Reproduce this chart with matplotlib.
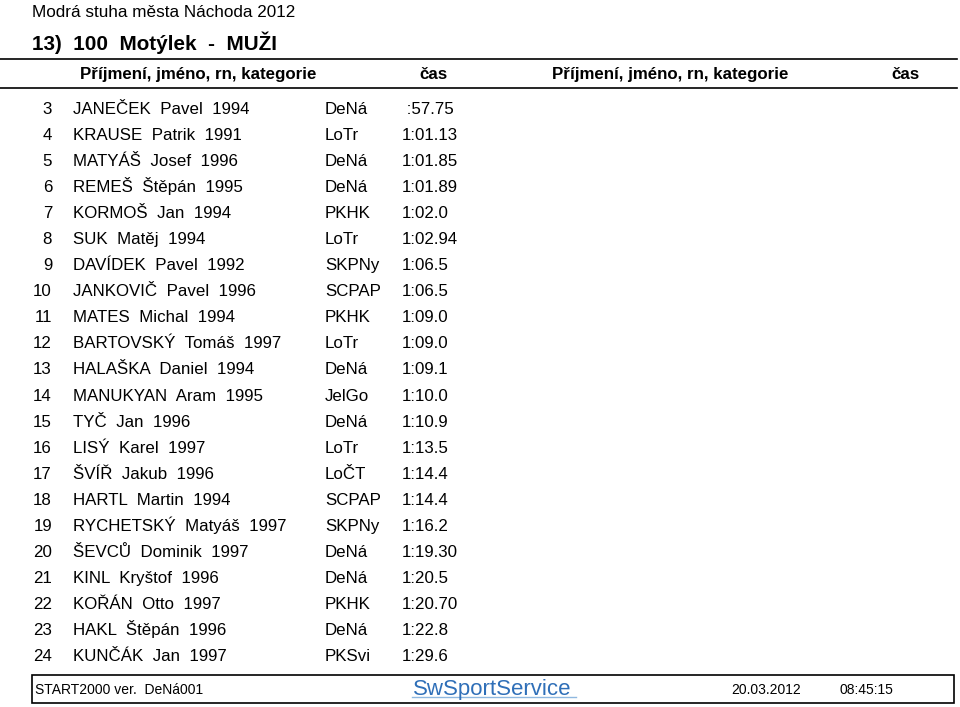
import matplotlib.pyplot as plt

plt.rcParams['font.family'] = ['Liberation Sans', 'DejaVu Sans']

# Data
ranks = [3, 4, 5, 6, 7, 8, 9, 10, 11, 12, 13, 14, 15, 16, 17, 18, 19, 20, 21, 22, 23, 24]
names = ['JANEČEK  Pavel  1994', 'KRAUSE  Patrik  1991', 'MATYÁŠ  Josef  1996',
         'REMEŠ  Štěpán  1995', 'KORMOŠ  Jan  1994', 'SUK  Matěj  1994',
         'DAVÍDEK  Pavel  1992', 'JANKOVIČ  Pavel  1996', 'MATES  Michal  1994',
         'BARTOVSKÝ  Tomáš  1997', 'HALAŠKA  Daniel  1994', 'MANUKYAN  Aram  1995',
         'TYČ  Jan  1996', 'LISÝ  Karel  1997', 'ŠVÍŘ  Jakub  1996',
         'HARTL  Martin  1994', 'RYCHETSKÝ  Matyáš  1997', 'ŠEVCŮ  Dominik  1997',
         'KINL  Kryštof  1996', 'KOŘÁN  Otto  1997', 'HAKL  Štěpán  1996',
         'KUNČÁK  Jan  1997']
clubs = ['DeNá', 'LoTr', 'DeNá', 'DeNá', 'PKHK', 'LoTr', 'SKPNy', 'SCPAP', 'PKHK',
         'LoTr', 'DeNá', 'JelGo', 'DeNá', 'LoTr', 'LoČT', 'SCPAP', 'SKPNy', 'DeNá',
         'DeNá', 'PKHK', 'DeNá', 'PKSvi']
times = [' :57.75', '1:01.13', '1:01.85', '1:01.89', '1:02.0', '1:02.94', '1:06.5',
         '1:06.5', '1:09.0', '1:09.0', '1:09.1', '1:10.0', '1:10.9', '1:13.5',
         '1:14.4', '1:14.4', '1:16.2', '1:19.30', '1:20.5', '1:20.70', '1:22.8',
         '1:29.6']

fig = plt.figure(figsize=(9.6, 7.07), dpi=100)
ax = fig.add_axes([0, 0, 1, 1])
ax.set_xlim(0, 960)
ax.set_ylim(707, 0)
ax.axis('off')

fs = 12.2

# Titles
ax.text(32, 17, 'Modrá stuha města Náchoda 2012', fontsize=12.3, va='baseline', ha='left')
ax.text(32, 50, '13)  100  Motýlek  -  MUŽI', fontsize=14.9, fontweight='bold',
        va='baseline', ha='left')

# Header band
ax.plot([0, 957], [59, 59], color='black', lw=1.2)
ax.plot([0, 957], [88, 88], color='black', lw=1.2)
for xc, xt in [(198, 433), (670, 905)]:
    ax.text(xc, 79, 'Příjmení, jméno, rn, kategorie', fontsize=fs, fontweight='bold',
            ha='center', va='baseline')
    ax.text(xt, 79, 'čas', fontsize=fs, fontweight='bold', ha='center', va='baseline')

# Rows
y0, dy = 114, 26.05
for i, (r, n, c, t) in enumerate(zip(ranks, names, clubs, times)):
    y = y0 + i * dy
    ax.text(52, y, str(r), fontsize=fs, ha='right', va='baseline')
    ax.text(73, y, n, fontsize=fs, ha='left', va='baseline')
    ax.text(325, y, c, fontsize=fs, ha='left', va='baseline')
    ax.text(402, y, t, fontsize=fs, ha='left', va='baseline')

# Footer box
ax.add_patch(plt.Rectangle((32, 675), 922, 28, fill=False, ec='black', lw=1.2))
ax.text(35, 694, 'START2000 ver.  DeNá001', fontsize=10, ha='left', va='baseline')
ax.text(492, 695, 'SwSportService', fontsize=16, color='#2f6fb8', ha='center',
        va='baseline')
ax.plot([412, 576], [697, 697], color='#8fb8e0', lw=1)
ax.text(731, 694, '20.03.2012', fontsize=10, ha='left', va='baseline')
ax.text(839, 694, '08:45:15', fontsize=10, ha='left', va='baseline')

fig.savefig('out.png', dpi=100)
